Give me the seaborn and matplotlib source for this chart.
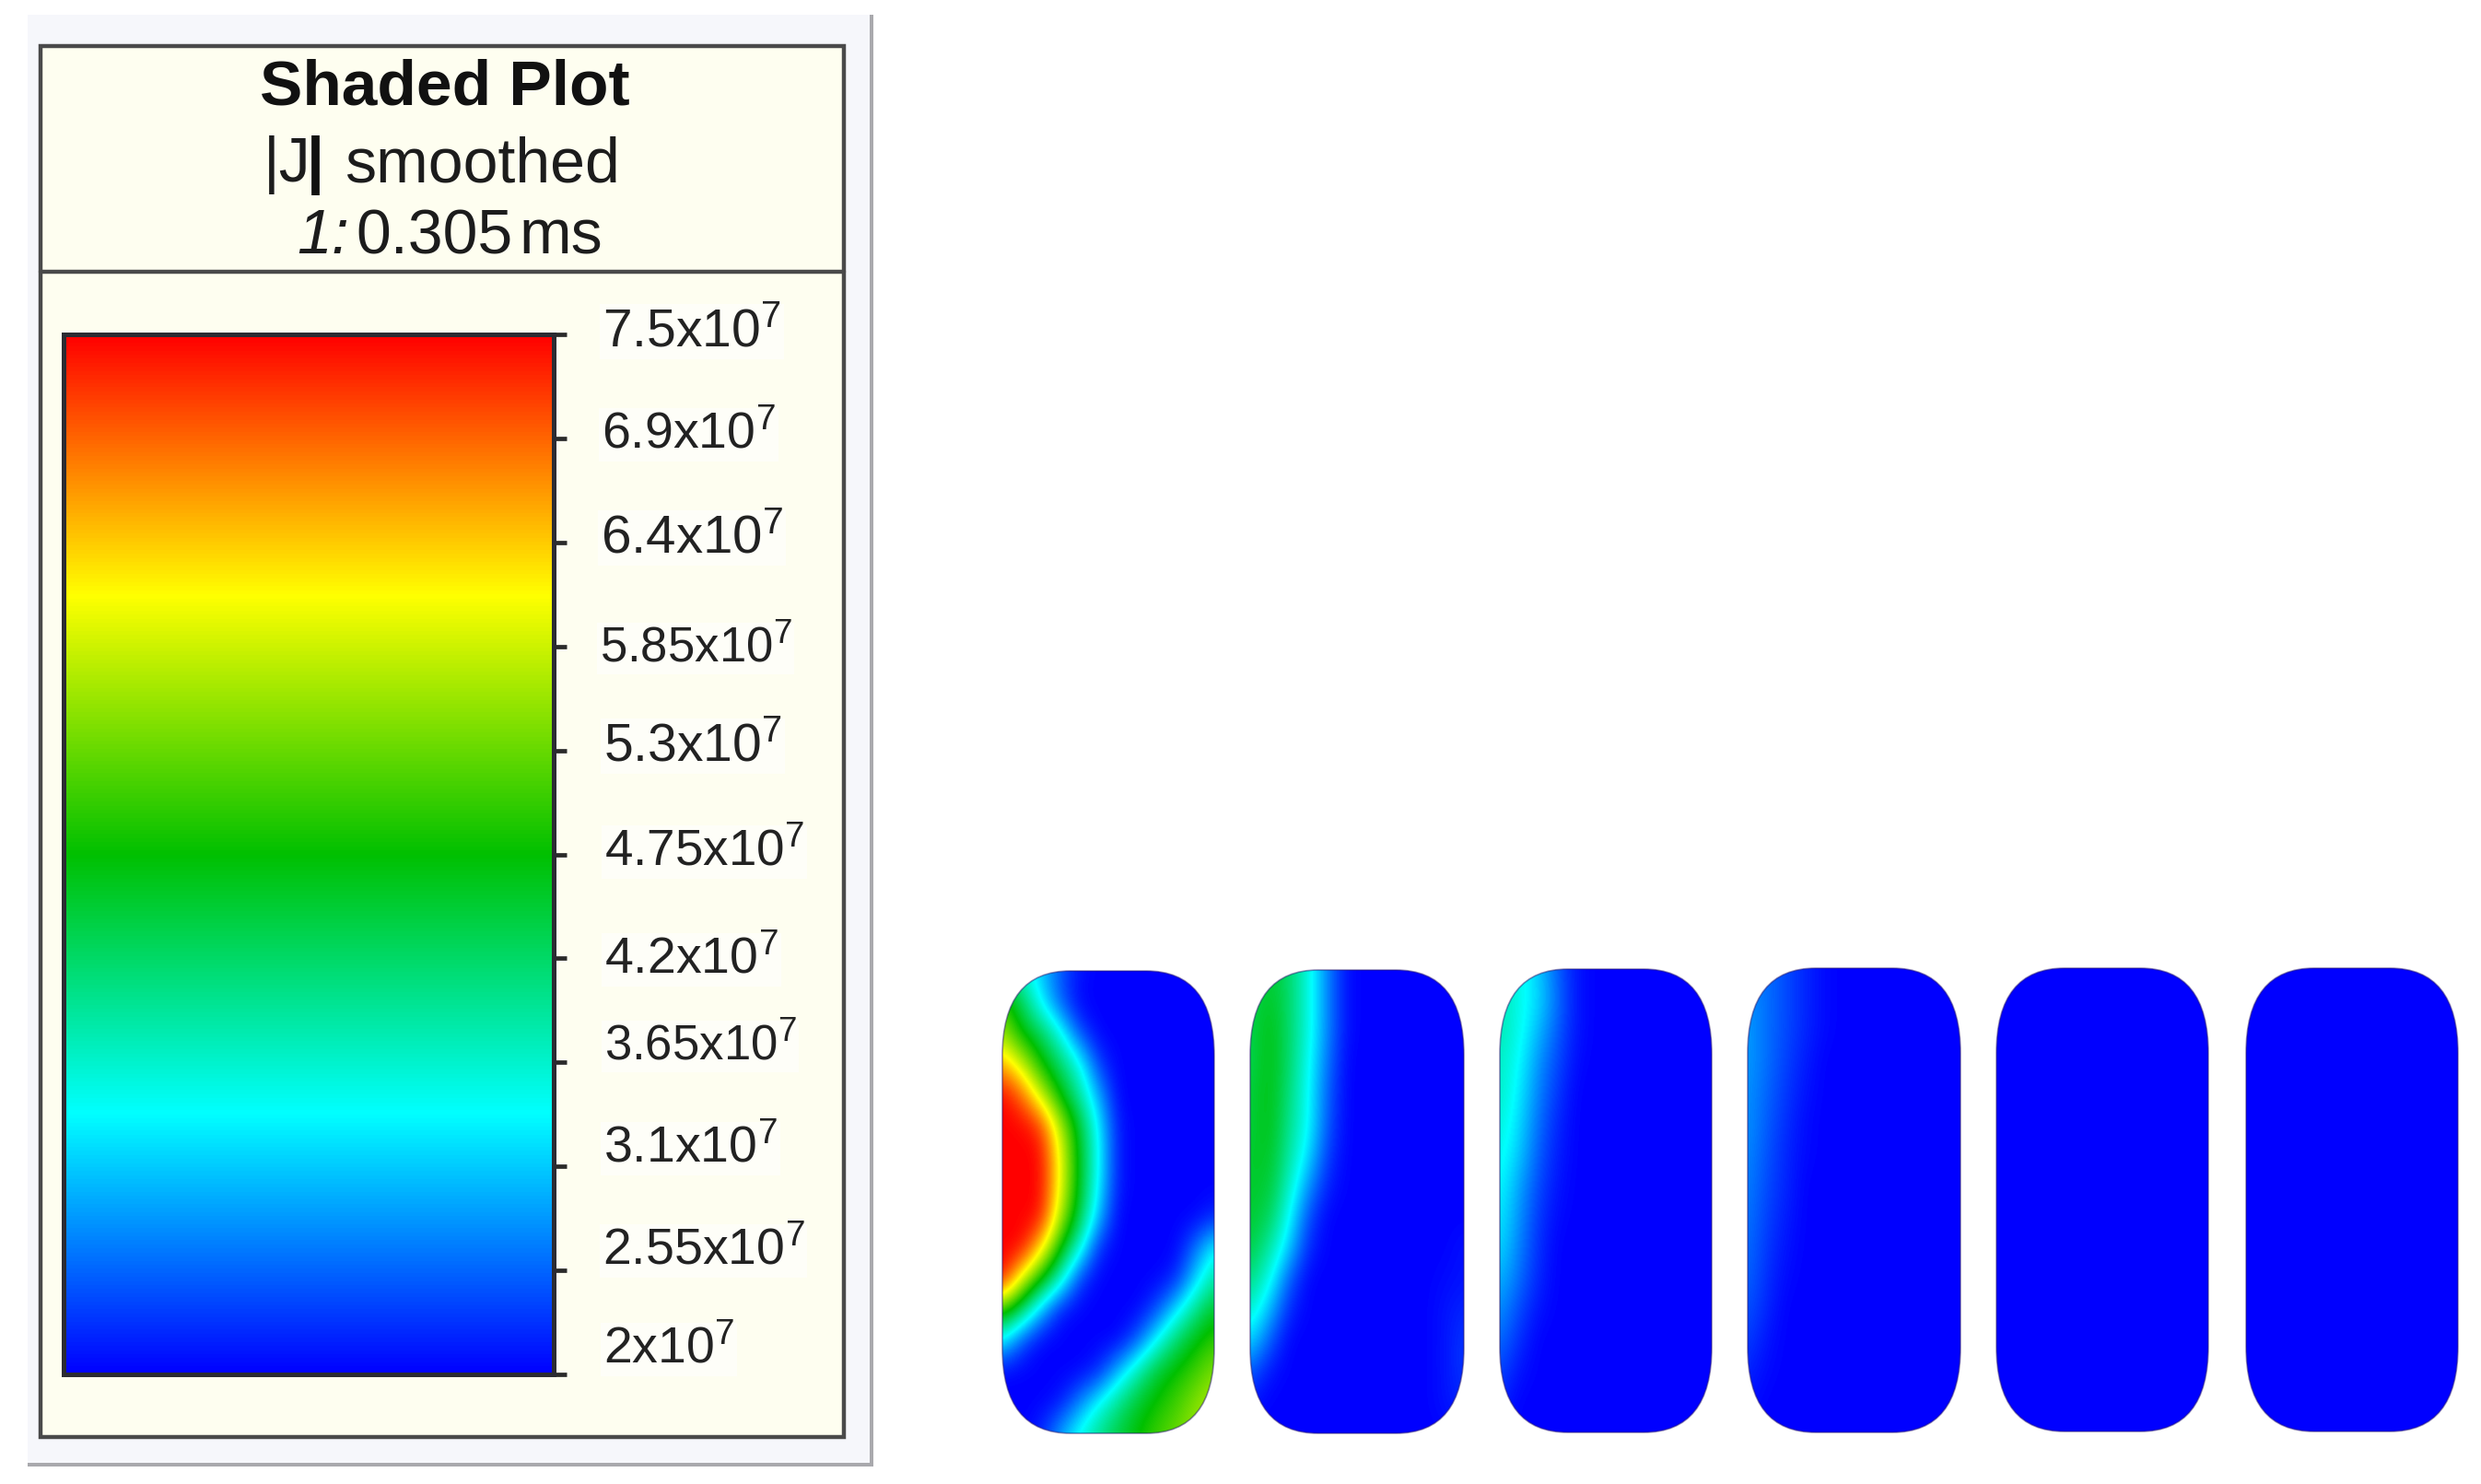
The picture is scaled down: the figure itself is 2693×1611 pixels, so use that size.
import numpy as np
import matplotlib
matplotlib.use("Agg")
import matplotlib.pyplot as plt
from matplotlib.patches import FancyBboxPatch, Rectangle
import seaborn as sns

W, H = 2693, 1611

# colour scale, values in units of 1e7
v_min, v_max = 2.0, 7.5
scale_colors = ["#0000ff", "#00ffff", "#00c000", "#ffff00", "#ff0000"]
tick_values = [7.5, 6.95, 6.4, 5.85, 5.3, 4.75, 4.2, 3.65, 3.1, 2.55, 2.0]
tick_labels = ["7.5", "6.9", "6.4", "5.85", "5.3", "4.75", "4.2", "3.65", "3.1", "2.55", "2"]

# |J| on a coarse grid (rows top to bottom, columns left to right)
conductor_1 = [
    [4.0, 3.6, 3.1, 2.5, 2.1, 2, 2, 2, 2, 2, 2, 2],
    [5.06, 4.3, 3.3, 2.5, 2.0, 2, 2, 2, 2, 2, 2, 2],
    [5.56, 4.7, 4.3, 3.5, 2.4, 2, 2, 2, 2, 2, 2, 2],
    [6.56, 5.81, 4.8, 4.2, 3.5, 2.3, 2, 2, 2, 2, 2, 2],
    [7.5, 6.94, 5.81, 4.7, 3.9, 2.9, 2, 2, 2, 2, 2, 2],
    [7.5, 7.5, 7.19, 5.69, 4.5, 3.3, 2.1, 2, 2, 2, 2, 2],
    [7.5, 7.5, 7.5, 6.06, 4.6, 3.4, 2.1, 2, 2, 2, 2, 2],
    [7.5, 7.5, 7.5, 6.06, 4.6, 3.3, 2.1, 2, 2, 2, 2, 2],
    [7.5, 7.5, 7.44, 5.69, 4.4, 3.0, 2.0, 2, 2, 2, 2, 2.2],
    [7.5, 7.5, 6.31, 4.8, 3.6, 2.2, 2, 2, 2, 2, 2.6, 3.4],
    [7.5, 5.94, 4.8, 3.7, 2.3, 2, 2, 2, 2, 2.2, 3.1, 3.9],
    [5.06, 4.2, 3.0, 2.1, 2, 2, 2, 2, 2.4, 3.2, 4.0, 4.6],
    [3.3, 2.4, 2, 2, 2, 2, 2, 2.5, 3.4, 4.2, 4.7, 5.0],
    [2, 2, 2, 2, 2, 2.2, 3.0, 3.8, 4.5, 4.8, 5.06, 5.44],
    [2, 2, 2, 2.1, 2.7, 3.4, 4.0, 4.5, 4.8, 5.06, 5.44, 5.69],
    [2, 2, 2.2, 2.9, 3.5, 4.0, 4.4, 4.75, 5.06, 5.3, 5.56, 5.69],
]
conductor_2 = [
    [4.2, 4.5, 4.2, 3.55, 2.7, 2.05, 2, 2, 2, 2, 2, 2],
    [4.3, 4.6, 4.2, 3.55, 2.7, 2.05, 2, 2, 2, 2, 2, 2],
    [4.3, 4.7, 4.2, 3.55, 2.7, 2.05, 2, 2, 2, 2, 2, 2],
    [4.3, 4.7, 4.2, 3.45, 2.6, 2, 2, 2, 2, 2, 2, 2],
    [4.4, 4.7, 4.1, 3.4, 2.5, 2, 2, 2, 2, 2, 2, 2],
    [4.4, 4.7, 4.0, 3.4, 2.45, 2, 2, 2, 2, 2, 2, 2],
    [4.5, 4.6, 3.9, 3.2, 2.3, 2, 2, 2, 2, 2, 2, 2],
    [4.5, 4.5, 3.7, 2.8, 2.15, 2, 2, 2, 2, 2, 2, 2],
    [4.5, 4.3, 3.4, 2.4, 2, 2, 2, 2, 2, 2, 2, 2],
    [4.4, 3.9, 3.1, 2.2, 2, 2, 2, 2, 2, 2, 2, 2.1],
    [4.1, 3.5, 2.5, 2, 2, 2, 2, 2, 2, 2, 2.05, 2.1],
    [3.7, 3.0, 2.2, 2, 2, 2, 2, 2, 2, 2, 2.1, 2.2],
    [3.2, 2.5, 2, 2, 2, 2, 2, 2, 2, 2, 2.1, 2.3],
    [2.5, 2.1, 2, 2, 2, 2, 2, 2, 2, 2, 2.1, 2.3],
    [2.1, 2, 2, 2, 2, 2, 2, 2, 2, 2, 2.1, 2.2],
    [2, 2, 2, 2, 2, 2, 2, 2, 2, 2, 2, 2.1],
]
conductor_3 = [
    [3.8, 3.5, 3.1, 2.5, 2.1, 2, 2, 2, 2, 2, 2, 2],
    [3.8, 3.5, 3.2, 2.6, 2.1, 2, 2, 2, 2, 2, 2, 2],
    [3.8, 3.5, 3.0, 2.5, 2.1, 2, 2, 2, 2, 2, 2, 2],
    [3.7, 3.4, 2.8, 2.4, 2.05, 2, 2, 2, 2, 2, 2, 2],
    [3.7, 3.3, 2.7, 2.3, 2, 2, 2, 2, 2, 2, 2, 2],
    [3.6, 3.2, 2.6, 2.2, 2, 2, 2, 2, 2, 2, 2, 2],
    [3.5, 3.1, 2.5, 2.15, 2, 2, 2, 2, 2, 2, 2, 2],
    [3.4, 2.9, 2.4, 2.1, 2, 2, 2, 2, 2, 2, 2, 2],
    [3.3, 2.8, 2.3, 2.05, 2, 2, 2, 2, 2, 2, 2, 2],
    [3.2, 2.7, 2.25, 2, 2, 2, 2, 2, 2, 2, 2, 2],
    [3.0, 2.6, 2.2, 2, 2, 2, 2, 2, 2, 2, 2, 2],
    [2.8, 2.4, 2.1, 2, 2, 2, 2, 2, 2, 2, 2, 2],
    [2.6, 2.25, 2, 2, 2, 2, 2, 2, 2, 2, 2, 2],
    [2.4, 2.1, 2, 2, 2, 2, 2, 2, 2, 2, 2, 2],
    [2.2, 2, 2, 2, 2, 2, 2, 2, 2, 2, 2, 2],
    [2.1, 2, 2, 2, 2, 2, 2, 2, 2, 2, 2, 2],
]
conductor_4 = [
    [2.7, 2.6, 2.4, 2.2, 2.05, 2, 2, 2, 2, 2, 2, 2],
    [2.8, 2.6, 2.4, 2.2, 2.05, 2, 2, 2, 2, 2, 2, 2],
    [2.85, 2.6, 2.4, 2.2, 2.05, 2, 2, 2, 2, 2, 2, 2],
    [2.85, 2.6, 2.35, 2.15, 2, 2, 2, 2, 2, 2, 2, 2],
    [2.8, 2.55, 2.3, 2.1, 2, 2, 2, 2, 2, 2, 2, 2],
    [2.8, 2.5, 2.25, 2.05, 2, 2, 2, 2, 2, 2, 2, 2],
    [2.75, 2.45, 2.2, 2.05, 2, 2, 2, 2, 2, 2, 2, 2],
    [2.7, 2.4, 2.2, 2, 2, 2, 2, 2, 2, 2, 2, 2],
    [2.65, 2.35, 2.15, 2, 2, 2, 2, 2, 2, 2, 2, 2],
    [2.6, 2.3, 2.1, 2, 2, 2, 2, 2, 2, 2, 2, 2],
    [2.55, 2.25, 2.05, 2, 2, 2, 2, 2, 2, 2, 2, 2],
    [2.45, 2.2, 2, 2, 2, 2, 2, 2, 2, 2, 2, 2],
    [2.35, 2.1, 2, 2, 2, 2, 2, 2, 2, 2, 2, 2],
    [2.2, 2.05, 2, 2, 2, 2, 2, 2, 2, 2, 2, 2],
    [2.1, 2, 2, 2, 2, 2, 2, 2, 2, 2, 2, 2],
    [2, 2, 2, 2, 2, 2, 2, 2, 2, 2, 2, 2],
]
conductor_5 = [[2.0, 2.0], [2.0, 2.0]]
conductor_6 = [[2.0, 2.0], [2.0, 2.0]]
conductors = [conductor_1, conductor_2, conductor_3, conductor_4, conductor_5, conductor_6]

# layout in picture pixels
conductor_boxes = [
    (1088, 1054, 1318, 1556),
    (1357, 1053, 1589, 1556),
    (1628, 1052, 1858, 1555),
    (1897, 1051, 2128, 1555),
    (2167, 1051, 2397, 1554),
    (2438, 1051, 2668, 1554),
]
label_left = [654, 653, 652, 651, 655, 656, 656, 656, 655, 654, 655]
label_base = [375, 486, 599, 718, 825, 939, 1056, 1150, 1261, 1372, 1479]
label_size = [41, 40, 42, 38, 41, 39.5, 40, 38, 40, 40, 40]

sns.set_theme(style="white")
plt.rcParams["font.family"] = ["Liberation Sans", "DejaVu Sans"]
plt.rcParams["mathtext.fontset"] = "custom"
plt.rcParams["mathtext.rm"] = "Liberation Sans"
plt.rcParams["mathtext.it"] = "Liberation Sans:italic"

cmap = sns.blend_palette(scale_colors, n_colors=256, as_cmap=True)

fig = plt.figure(figsize=(W / 100, H / 100), dpi=100, facecolor="white")


def px_axes(x0, y0, x1, y1):
    return fig.add_axes([x0 / W, 1 - y1 / H, (x1 - x0) / W, (y1 - y0) / H])


# legend panel drawn on a full-figure axes
bg = fig.add_axes([0, 0, 1, 1])
bg.set_xlim(0, W)
bg.set_ylim(H, 0)
bg.axis("off")
bg.add_patch(Rectangle((30, 16), 918, 1576, fc="#a9a9ad", ec="none"))
bg.add_patch(Rectangle((30, 16), 914, 1572, fc="#f6f7fb", ec="none"))
bg.add_patch(Rectangle((44, 50), 872, 1510, fc="#fefef0", ec="#4a4a4a", lw=3.2))
bg.plot([44, 916], [295, 295], color="#4a4a4a", lw=3.2)

txt = "#1c1c1c"
bg.text(483, 113, "Shaded Plot", fontsize=50, fontweight="bold", color="#111111", ha="center", va="baseline")
bg.text(286, 197, "|J", fontsize=49, color=txt, ha="left", va="baseline")
bg.text(333, 197, "|", fontsize=49, fontweight="bold", color="#111111", ha="left", va="baseline")
bg.text(374, 197, "smoothed", fontsize=49, color=txt, ha="left", va="baseline")
bg.text(322, 275, "1:", fontsize=49, fontstyle="italic", color=txt, ha="left", va="baseline")
bg.text(386, 275, "0.305", fontsize=49, color=txt, ha="left", va="baseline")
bg.text(563, 275, "ms", fontsize=49, color=txt, ha="left", va="baseline")

for name, x, y, size in zip(tick_labels, label_left, label_base, label_size):
    bg.text(x, y, name + "x10$^{7}$", fontsize=size, color="#222222", ha="left", va="baseline",
            bbox=dict(fc="white", ec="none", alpha=0.55, pad=2))

# colour bar
cax = px_axes(69, 363, 601, 1492)
levels = np.linspace(v_max, v_min, 512).reshape(-1, 1)
sns.heatmap(levels, ax=cax, cmap=cmap, vmin=v_min, vmax=v_max, cbar=False,
            xticklabels=False, yticklabels=False)
cax.set_yticks([(v_max - v) / (v_max - v_min) * levels.shape[0] for v in tick_values])
cax.set_yticklabels([])
cax.tick_params(axis="y", left=False, right=True, length=10, width=3.4, color="#2a2a2a")
for spine in cax.spines.values():
    spine.set_visible(True)
    spine.set_linewidth(3.6)
    spine.set_color("#2b2b33")

# conductor cross-sections
for grid, (x0, y0, x1, y1) in zip(conductors, conductor_boxes):
    ax = px_axes(x0, y0, x1, y1)
    w, h = x1 - x0, y1 - y0
    grid = np.array(grid, dtype=float)
    dx = w / (grid.shape[1] - 1)
    dy = h / (grid.shape[0] - 1)
    im = ax.imshow(grid, cmap=cmap, vmin=v_min, vmax=v_max, aspect="auto",
                   interpolation="bicubic", interpolation_stage="data",
                   extent=(-dx / 2, w + dx / 2, h + dy / 2, -dy / 2))
    ax.set_xlim(0, w)
    ax.set_ylim(h, 0)
    ax.axis("off")
    outline = FancyBboxPatch((0, 0), w, h, boxstyle="round,pad=0,rounding_size=74", mutation_aspect=1.25,
                             fc="none", ec="#2a1a70", lw=1.2, alpha=0.5, clip_on=False)
    ax.add_patch(outline)
    im.set_clip_path(outline)

fig.savefig("out.png", dpi=100)
